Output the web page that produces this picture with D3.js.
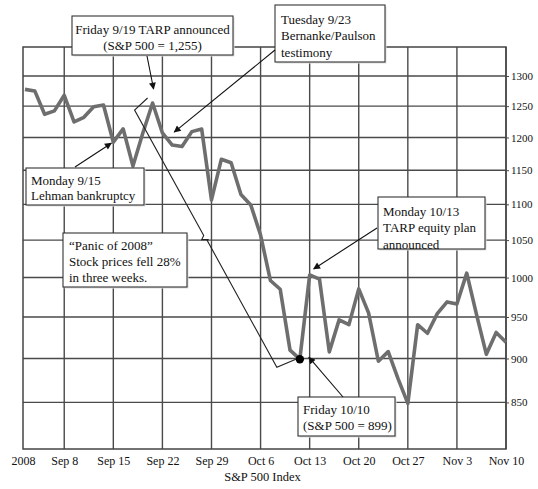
<!DOCTYPE html>
<html>
<head>
<meta charset="utf-8">
<script src="https://cdn.jsdelivr.net/npm/d3@7"></script>
<style>
  body { margin: 0; background: #fff; }
  text { font-family: "Liberation Serif", "DejaVu Serif", serif; fill: #111; }
</style>
</head>
<body>
<svg width="538" height="489"></svg>
<script>
// S&P 500 daily close, trading days 9/2/2008 - 11/10/2008
var dates = ["9/2","9/3","9/4","9/5","9/8","9/9","9/10","9/11","9/12",
  "9/15","9/16","9/17","9/18","9/19","9/22","9/23","9/24","9/25","9/26",
  "9/29","9/30","10/1","10/2","10/3","10/6","10/7","10/8","10/9","10/10",
  "10/13","10/14","10/15","10/16","10/17","10/20","10/21","10/22","10/23","10/24",
  "10/27","10/28","10/29","10/30","10/31","11/3","11/4","11/5","11/6","11/7","11/10"];

var closes = [1277.6,1275.0,1236.8,1242.3,1267.8,1224.5,1232.0,1249.1,1251.7,
  1192.7,1213.6,1156.4,1206.5,1255.1,1207.1,1188.2,1185.9,1209.2,1213.3,
  1106.4,1166.4,1161.1,1114.3,1099.2,1056.9,996.2,984.9,909.9,899.2,
  1003.4,998.0,907.8,946.4,940.6,985.4,955.1,896.8,908.1,876.8,
  848.9,940.5,930.1,954.1,968.8,966.3,1005.8,952.8,904.9,931.0,919.2];

var weekDates = ["9/8","9/15","9/22","9/29","10/6","10/13","10/20","10/27","11/3","11/10"];
var weekLabels = ["Sep 8","Sep 15","Sep 22","Sep 29","Oct 6","Oct 13","Oct 20","Oct 27","Nov 3","Nov 10"];
var yearLabel = "2008";
var yTicks = [850,900,950,1000,1050,1100,1150,1200,1250,1300];
var axisTitle = "S&P 500 Index";

var margins = {top: 47, bottom: 40, left: 23, right: 32};
var width = 538 - margins.left - margins.right;
var height = 489 - margins.top - margins.bottom;

var svg = d3.select("svg");

var xScale = d3.scaleLinear()
  .domain([-0.2, dates.length - 1])
  .range([0, width]);

var yScale = d3.scaleLog()
  .domain([800, 1350])
  .range([height, 0]);

var idx = function(d) { return dates.indexOf(d); };

var defs = svg.append("defs");
defs.append("marker")
  .attr("id", "arrow")
  .attr("viewBox", "0 0 10 10")
  .attr("refX", 9).attr("refY", 5)
  .attr("markerWidth", 9).attr("markerHeight", 7)
  .attr("markerUnits", "userSpaceOnUse")
  .attr("orient", "auto")
  .append("path")
  .attr("d", "M0,0L10,5L0,10z")
  .attr("fill", "#111");

var plot = svg.append("g")
  .attr("transform", "translate(" + margins.left + "," + margins.top + ")");

// horizontal grid
plot.selectAll(".hgrid")
  .data(yTicks)
  .enter()
  .append("line")
  .attr("class", "hgrid")
  .attr("x1", 0).attr("x2", width)
  .attr("y1", function(d) { return yScale(d); })
  .attr("y2", function(d) { return yScale(d); })
  .attr("stroke", "#4a4a4a").attr("stroke-width", 1.4);

// vertical grid
plot.selectAll(".vgrid")
  .data(weekDates)
  .enter()
  .append("line")
  .attr("class", "vgrid")
  .attr("x1", function(d) { return xScale(idx(d)); })
  .attr("x2", function(d) { return xScale(idx(d)); })
  .attr("y1", 0).attr("y2", height)
  .attr("stroke", "#4a4a4a").attr("stroke-width", 1.4);

plot.append("rect")
  .attr("width", width).attr("height", height)
  .attr("fill", "none").attr("stroke", "#444").attr("stroke-width", 1.5);

// axes
var xAxis = d3.axisBottom(xScale)
  .tickValues([-0.2].concat(weekDates.map(idx)))
  .tickSize(0).tickPadding(7)
  .tickFormat(function(d, i) { return i == 0 ? yearLabel : weekLabels[i - 1]; });

plot.append("g")
  .attr("transform", "translate(0," + height + ")")
  .call(xAxis)
  .call(function(g) { g.select(".domain").remove(); })
  .selectAll("text")
  .attr("font-size", 12).attr("font-family", null).attr("fill", "#111");

var yAxis = d3.axisRight(yScale)
  .tickValues(yTicks)
  .tickSize(3).tickPadding(2)
  .tickFormat(d3.format("d"));

var yg = plot.append("g")
  .attr("transform", "translate(" + width + ",0)")
  .call(yAxis);
yg.select(".domain").remove();
yg.selectAll("line").attr("stroke", "#4a4a4a");
yg.selectAll("text").attr("font-size", 11).attr("font-family", null).attr("fill", "#111");

svg.append("text")
  .attr("x", margins.left + width / 2 - 2)
  .attr("y", 481)
  .attr("text-anchor", "middle")
  .attr("font-size", 12.5)
  .text(axisTitle);

// price line
var line = d3.line()
  .x(function(d, i) { return xScale(i); })
  .y(function(d) { return yScale(d); });

plot.append("path")
  .datum(closes)
  .attr("d", line)
  .attr("fill", "none")
  .attr("stroke", "#6e6e6e")
  .attr("stroke-width", 3.6)
  .attr("stroke-linejoin", "round");

var px = function(d) { return margins.left + xScale(idx(d)); };
var py = function(d) { return margins.top + yScale(closes[idx(d)]); };

// dot on 10/10
svg.append("circle")
  .attr("cx", px("10/10")).attr("cy", py("10/10"))
  .attr("r", 4.2).attr("fill", "#000");

// bracket from 9/19 peak to 10/10 trough
var ax = px("9/19") - 18, ay = py("9/19") + 7;
var bx = px("10/10") - 23, by = py("10/10") + 8;
var t = 0.5;
var mx = ax + (bx - ax) * t, my = ay + (by - ay) * t;
var bracket = svg.append("g").attr("fill", "none").attr("stroke", "#222").attr("stroke-width", 1.1);
bracket.append("path")
  .attr("d", "M" + (ax + 13) + "," + (ay - 12) + "L" + ax + "," + ay +
    "L" + (mx - 2) + "," + (my - 3) +
    "L" + (mx - 4) + "," + (my + 1) +
    "L" + (mx + 3) + "," + (my + 1) +
    "L" + (mx + 1) + "," + (my + 1) +
    "L" + bx + "," + by + "L" + (bx + 19) + "," + (by - 8));

// annotation boxes
var boxes = [
  {x: 72, y: 16, w: 161, h: 39, anchor: "middle", tx: 152.5, ty: 29,
   lines: ["Friday 9/19 TARP announced", "(S&P 500 = 1,255)"], lh: 16},
  {x: 275, y: 5, w: 110, h: 57, anchor: "start", tx: 281, ty: 19,
   lines: ["Tuesday 9/23", "Bernanke/Paulson", "testimony"], lh: 16.5},
  {x: 26, y: 168, w: 118, h: 37, anchor: "start", tx: 31, ty: 180,
   lines: ["Monday 9/15", "Lehman bankruptcy"], lh: 15.5},
  {x: 63, y: 233, w: 124, h: 54, anchor: "start", tx: 69, ty: 245,
   lines: ["\u201CPanic of 2008\u201D", "Stock prices fell 28%", "in three weeks."], lh: 16},
  {x: 378, y: 197, w: 107, h: 52, anchor: "start", tx: 383, ty: 211,
   lines: ["Monday 10/13", "TARP equity plan", "announced"], lh: 16.5},
  {x: 298, y: 397, w: 97, h: 39, anchor: "start", tx: 303, ty: 409,
   lines: ["Friday 10/10", "(S&P 500 = 899)"], lh: 16}
];

var bg = svg.selectAll(".box")
  .data(boxes)
  .enter()
  .append("g")
  .attr("class", "box");

bg.append("rect")
  .attr("x", function(d) { return d.x + 1.5; })
  .attr("y", function(d) { return d.y + 1.5; })
  .attr("width", function(d) { return d.w; })
  .attr("height", function(d) { return d.h; })
  .attr("fill", "#ddd");

bg.append("rect")
  .attr("x", function(d) { return d.x; })
  .attr("y", function(d) { return d.y; })
  .attr("width", function(d) { return d.w; })
  .attr("height", function(d) { return d.h; })
  .attr("fill", "#fff").attr("stroke", "#333").attr("stroke-width", 1.1);

bg.each(function(d) {
  var g = d3.select(this);
  d.lines.forEach(function(s, i) {
    g.append("text")
      .attr("x", d.tx)
      .attr("y", d.ty + i * d.lh)
      .attr("dy", "0.35em")
      .attr("text-anchor", d.anchor)
      .attr("font-size", 13)
      .text(s);
  });
});

// arrows
var arrows = [
  [147, 56, px("9/19") + 1, py("9/19") - 14],
  [275, 50, px("9/23") + 2, py("9/23") - 13],
  [75, 167, px("9/15") - 2, py("9/15") + 1],
  [377, 228, px("10/13") + 4, py("10/13") - 6],
  [343, 397, px("10/10") + 9, py("10/10") - 2]
];

svg.selectAll(".arrow")
  .data(arrows)
  .enter()
  .append("line")
  .attr("class", "arrow")
  .attr("x1", function(d) { return d[0]; })
  .attr("y1", function(d) { return d[1]; })
  .attr("x2", function(d) { return d[2]; })
  .attr("y2", function(d) { return d[3]; })
  .attr("stroke", "#111").attr("stroke-width", 1.1)
  .attr("marker-end", "url(#arrow)");
</script>
</body>
</html>
